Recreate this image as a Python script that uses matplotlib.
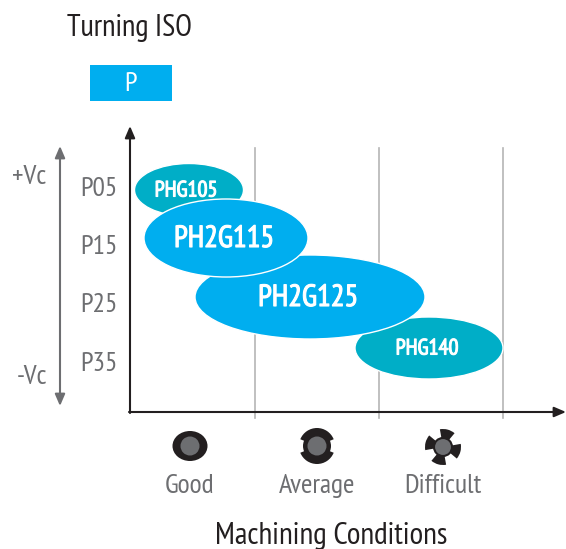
import matplotlib
matplotlib.use('Agg')
import matplotlib.pyplot as plt
import matplotlib.patheffects as pe
from matplotlib.patches import Ellipse, Circle, Wedge, Rectangle

plt.rcParams['font.family'] = ['Ubuntu Condensed', 'PT Sans Narrow', 'Roboto Condensed', 'Roboto', 'DejaVu Sans']

# chart contents
grades = ['PHG105', 'PH2G115', 'PH2G125', 'PHG140']
grade_x = [189, 226, 310, 429]
grade_y = [190, 238, 297, 348]
grade_w = [109, 164, 230, 148]
grade_h = [53, 78, 84, 62]
grade_colors = ['#00aec7', '#00aeef', '#00aeef', '#00aec7']
grade_font = [16, 22, 22, 16]
grade_text_x = [186, 224, 308, 427]

iso_labels = ['P05', 'P15', 'P25', 'P35']
iso_y = [188, 246, 304, 363]
cond_labels = ['Good', 'Average', 'Difficult']
cond_x = [190, 317, 443]
grid_x = [255, 379, 503]

DARK = '#231f20'
GREY = '#6d6e71'

fig = plt.figure(figsize=(5.66, 5.49), dpi=100)
ax = fig.add_axes([0, 0, 1, 1])
ax.set_xlim(0, 566)
ax.set_ylim(549, 0)
ax.axis('off')

# title and tab
ax.text(129, 28, 'Turning ISO', fontsize=22, color=DARK, ha='center', va='center')
ax.add_patch(Rectangle((90, 65), 82, 36, color='#00aeef', lw=0))
ax.text(131, 84, 'P', fontsize=20, color='white', ha='center', va='center')

# grid
for x in grid_x:
    ax.plot([x, x], [148, 418], color='#b5b5b5', lw=1.2, zorder=1)

# axes arrows
ax.annotate('', xy=(130, 126), xytext=(130, 413), annotation_clip=False,
            arrowprops=dict(arrowstyle='-|>,head_width=0.3,head_length=0.7', color=DARK, lw=1.5, shrinkA=0, shrinkB=0))
ax.annotate('', xy=(566, 412), xytext=(129, 412), annotation_clip=False,
            arrowprops=dict(arrowstyle='-|>,head_width=0.3,head_length=0.7', color=DARK, lw=1.5, shrinkA=0, shrinkB=0))
ax.annotate('', xy=(60, 146), xytext=(60, 406), annotation_clip=False,
            arrowprops=dict(arrowstyle='<|-|>,head_width=0.3,head_length=0.7', color=GREY, lw=1.5, shrinkA=0, shrinkB=0))

ax.text(29, 177, '+Vc', fontsize=20, color=GREY, ha='center', va='center')
ax.text(32, 377, '-Vc', fontsize=20, color=GREY, ha='center', va='center')

for lab, y in zip(iso_labels, iso_y):
    ax.text(99, y + 1, lab, fontsize=20, color=GREY, ha='center', va='center')

# grade ellipses, drawn in this order so the overlaps come out right
order = [0, 3, 2, 1]
for z, i in enumerate(order):
    ax.add_patch(Ellipse((grade_x[i], grade_y[i]), grade_w[i], grade_h[i], fc=grade_colors[i],
                         ec='white', lw=1, zorder=3 + z))
    ax.text(grade_text_x[i], grade_y[i] + 1, grades[i], fontsize=grade_font[i], color='white',
            ha='center', va='center', zorder=3 + z,
            path_effects=[pe.withStroke(linewidth=0.8, foreground='white')])

# machining condition icons
icon_y = 446
ax.add_patch(Ellipse((cond_x[0], icon_y), 35, 30, fc=DARK, lw=0))
ax.add_patch(Circle((cond_x[0], icon_y), 9.5, fc=GREY, lw=0, zorder=3))

ax.add_patch(Wedge((cond_x[1], icon_y), 18, 22, 158, fc=DARK, lw=0))
ax.add_patch(Wedge((cond_x[1], icon_y), 18, 202, 338, fc=DARK, lw=0))
ax.add_patch(Circle((cond_x[1], icon_y), 14, fc=DARK, lw=0))
ax.add_patch(Circle((cond_x[1], icon_y), 9.5, fc=GREY, lw=0, zorder=3))

for a in [285, 15, 105, 195]:
    ax.add_patch(Wedge((cond_x[2], icon_y + 1), 18, a - 25, a + 25, fc=DARK, lw=0))
ax.add_patch(Circle((cond_x[2], icon_y + 1), 9, fc=GREY, ec=DARK, lw=1.5, zorder=3))

for lab, x in zip(cond_labels, cond_x):
    ax.text(x, 486, lab, fontsize=20, color=GREY, ha='center', va='center')

ax.text(331, 536, 'Machining Conditions', fontsize=22.5, color=DARK, ha='center', va='center')

fig.savefig('out.png', dpi=100)
